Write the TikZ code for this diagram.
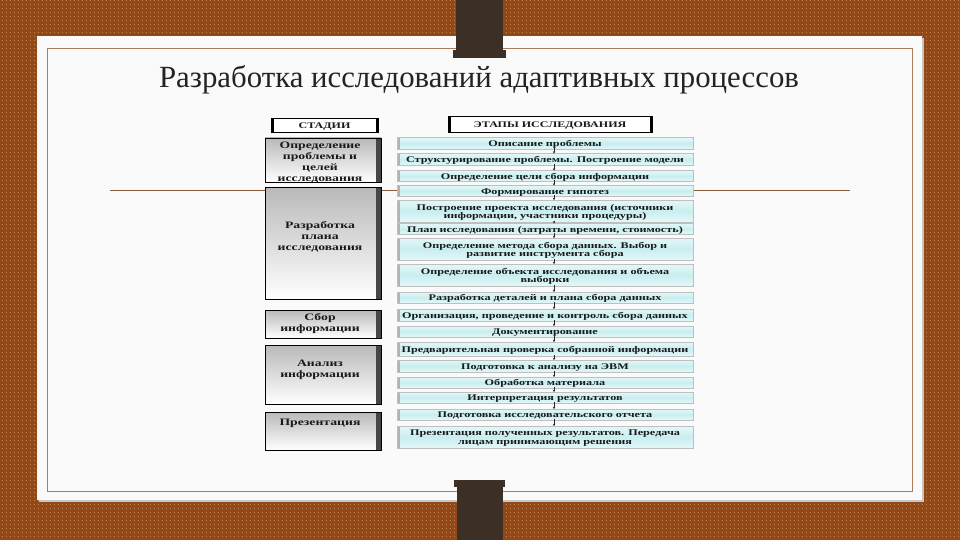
\documentclass[tikz,border=0pt]{standalone}
\usepackage{fontspec}
\setmainfont{Liberation Serif}
\newfontfamily\imgfont[FakeStretch=1.4]{Liberation Serif}
\usetikzlibrary{patterns.meta,arrows.meta}
\definecolor{bgbrown}{RGB}{146,72,24}
\definecolor{dotcol}{RGB}{232,178,120}
\definecolor{pincol}{RGB}{60,47,37}
\definecolor{cardline}{RGB}{170,125,95}
\definecolor{hline}{RGB}{140,90,60}
\definecolor{titlecol}{RGB}{35,35,35}
\definecolor{cardfill}{RGB}{250,250,251}
\definecolor{cyanl}{RGB}{228,248,248}
\definecolor{cyanm}{RGB}{200,238,240}
\tikzset{
  stage/.style={draw=black, line width=0.6pt, top color=gray!55, bottom color=white,
    minimum width=116pt, inner sep=0pt,
    path picture={\fill[gray!55!black] ([xshift=-5pt]path picture bounding box.north east) rectangle (path picture bounding box.south east);}},
  stagetext/.style={font=\imgfont\bfseries\fontsize{9.8}{11}\selectfont, align=center, inner sep=0pt, text=black!90},
  etap/.style={draw=gray!50, line width=0.5pt, top color=cyanl, bottom color=cyanl, middle color=cyanm,
    minimum width=296pt, inner sep=0pt,
    path picture={\fill[gray!60] (path picture bounding box.north west) rectangle ([xshift=3pt]path picture bounding box.south west);}},
  etaptext/.style={inner sep=0pt, align=center, text=black!90,
    font=\imgfont\bfseries\fontsize{8.7}{8.7}\selectfont},
  header/.style={draw=black, line width=0.6pt, fill=white, inner sep=0pt, text=black!90,
    text height=7pt, text depth=0pt,
    font=\imgfont\bfseries\fontsize{8.6}{9}\selectfont,
    path picture={\fill[black] (path picture bounding box.north west) rectangle ([xshift=2.5pt]path picture bounding box.south west);
                  \fill[black] ([xshift=-2.5pt]path picture bounding box.north east) rectangle (path picture bounding box.south east);}},
  arr/.style={-{Stealth[length=2.6pt,width=2.4pt]}, line width=0.5pt, black!85}
}
\newcommand\etapnode[4]{%
  \node[etap, minimum height=#3pt] (#1) at (545,#2) {};
  \node[etaptext] (#1t) at (545,#2+1.3) {#4};}
\begin{document}
\begin{tikzpicture}[x=1pt,y=-1pt]
\useasboundingbox (0,0) rectangle (960,540);
% background
\fill[bgbrown] (0,0) rectangle (960,540);
\fill[pattern={Dots[distance=4pt,radius=0.55pt]}, pattern color=dotcol] (0,0) rectangle (960,540);
% card
\fill[black!22] (39,38) rectangle (924,502);
\fill[cardfill] (37,36) rectangle (922,500);
\draw[cardline, line width=0.6pt] (47,48) rectangle (912,491);
% pins
\fill[pincol] (456,0) rectangle (503,52);
\fill[pincol] (453,50) rectangle (506,58);
\fill[pincol] (454,480) rectangle (505,487);
\fill[pincol] (457,485) rectangle (503,540);
% title
\node[font=\fontsize{30.8}{36}\selectfont, text=titlecol, anchor=base, inner sep=0pt] (title) at (479,88) {Разработка исследований адаптивных процессов};
% horizontal rule
\coordinate (hl) at (110,190);
\coordinate (hr) at (850,190);
\draw[hline, line width=0.8pt] (hl) -- (hr);
% headers
\node[header, minimum width=107pt, minimum height=14pt] (h1) at (324.5,125) {СТАДИИ};
\node[header, minimum width=204pt, minimum height=16pt] (h2) at (550,124) {ЭТАПЫ ИССЛЕДОВАНИЯ};
% stages
\node[stage, minimum height=44pt] (s1) at (323,160) {};
\node[stagetext] (s1t) at (320,162.5) {Определение\\проблемы и\\целей\\исследования};
\node[stage, minimum height=112pt] (s2) at (323,243) {};
\node[stagetext] (s2t) at (320,237) {Разработка\\плана\\исследования};
\node[stage, minimum height=28pt] (s3) at (323,324) {};
\node[stagetext] (s3t) at (320,324) {Сбор\\информации};
\node[stage, minimum height=59pt] (s4) at (323,374.5) {};
\node[stagetext] (s4t) at (320,370) {Анализ\\информации};
\node[stage, minimum height=38pt] (s5) at (323,431) {};
\node[stagetext] (s5t) at (320,423) {Презентация};
% steps
\etapnode{r1}{143.5}{12}{Описание проблемы}
\etapnode{r2}{159.5}{12}{Структурирование проблемы. Построение модели}
\etapnode{r3}{176}{11}{Определение цели сбора информации}
\etapnode{r4}{191}{11}{Формирование гипотез}
\etapnode{r5}{211}{22}{Построение проекта исследования (источники\\информации, участники процедуры)}
\etapnode{r6}{229}{11}{План исследования (затраты времени, стоимость)}
\etapnode{r7}{249}{22}{Определение метода сбора данных. Выбор и\\развитие инструмента сбора}
\etapnode{r8}{275}{22}{Определение объекта исследования и объема\\выборки}
\etapnode{r9}{297.5}{11}{Разработка деталей и плана сбора данных}
\etapnode{r10}{315}{12}{Организация, проведение и контроль сбора данных}
\etapnode{r11}{331.5}{11}{Документирование}
\etapnode{r12}{349}{14}{Предварительная проверка собранной информации}
\etapnode{r13}{366}{12}{Подготовка к анализу на ЭВМ}
\etapnode{r14}{382.5}{11}{Обработка материала}
\etapnode{r15}{397.5}{11}{Интерпретация результатов}
\etapnode{r16}{414.5}{11}{Подготовка исследовательского отчета}
\etapnode{r17}{437}{22}{Презентация полученных результатов. Передача\\лицам принимающим решения}
% arrows
\foreach \a/\b in {r1/r2,r2/r3,r3/r4,r4/r5,r5/r6,r6/r7,r7/r8,r8/r9,r9/r10,r10/r11,r11/r12,r12/r13,r13/r14,r14/r15,r15/r16,r16/r17}
  \draw[arr] ([xshift=9pt,yshift=1.5pt]\a.south) -- ([xshift=9pt,yshift=-0.5pt]\b.north);
\end{tikzpicture}
\end{document}
